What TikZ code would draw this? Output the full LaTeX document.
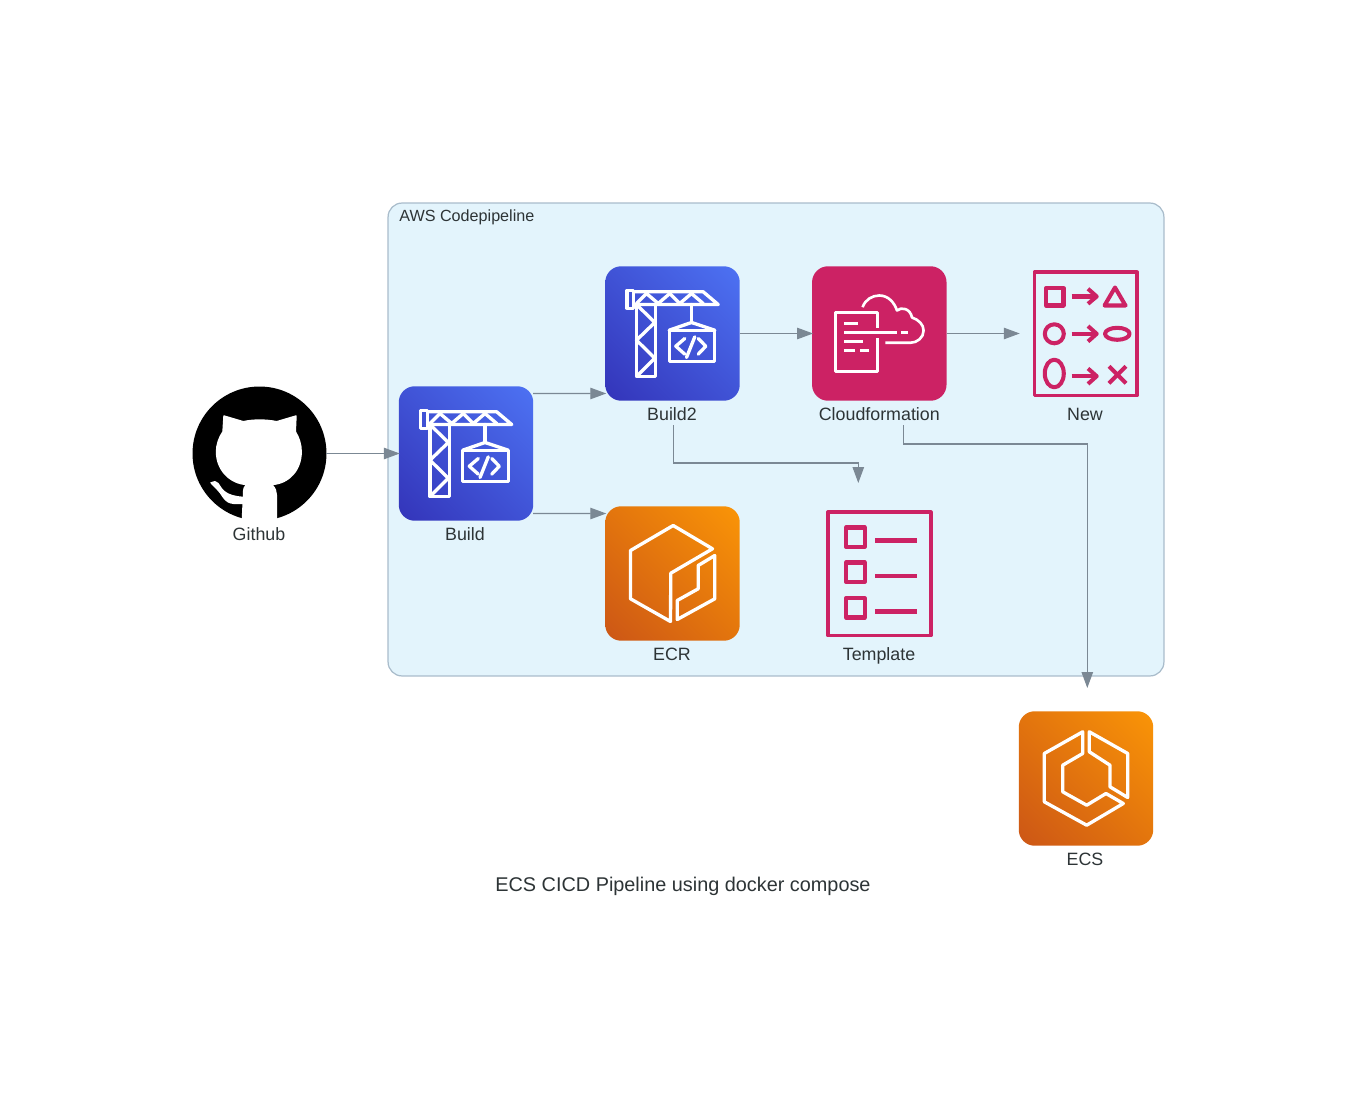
\documentclass[tikz,border=0pt]{standalone}
\usepackage{fontspec}
\setmainfont{Liberation Sans}
\usetikzlibrary{arrows.meta, calc, shadings}
\definecolor{flowgray}{HTML}{7B8894}
\definecolor{textgray}{HTML}{2D3436}
\definecolor{clusterfill}{HTML}{E3F4FC}
\definecolor{clusterline}{HTML}{A9BCCB}
\definecolor{stackpink}{HTML}{CC2264}
\definecolor{bluedark}{HTML}{3334B9}
\definecolor{bluelight}{HTML}{4D72F3}
\definecolor{bluemid}{HTML}{4053D6}
\definecolor{orangedark}{HTML}{CC5616}
\definecolor{orangelight}{HTML}{FA9507}
\definecolor{orangemid}{HTML}{E3750D}
\tikzset{
	iconbox/.style={minimum size=2.69cm,inner sep=0pt,outer sep=0pt,rounded corners=0.32cm},
	bluebox/.style={iconbox,lower left=bluedark,upper right=bluelight,upper left=bluemid,lower right=bluemid},
	orangebox/.style={iconbox,lower left=orangedark,upper right=orangelight,upper left=orangemid,lower right=orangemid},
	pinkbox/.style={iconbox,fill=stackpink},
	blankbox/.style={minimum size=2.69cm,inner sep=0pt,outer sep=0pt},
	catbox/.style={circle,fill=black,minimum size=2.68cm,inner sep=0pt,outer sep=0pt},
	cluster/.style={draw=clusterline,fill=clusterfill,line width=0.7pt,rounded corners=0.28cm,minimum width=15.52cm,minimum height=9.46cm,inner sep=0pt},
	lbl/.style={anchor=base,inner sep=0pt,text=textgray,font=\fontsize{10.15}{12}\selectfont},
	flow/.style={draw=flowgray,line width=0.6pt,shorten >=-0.02cm,-{Stealth[inset=0pt,length=0.32cm,width=0.23cm]}},
	wglyph/.style={draw=white,line width=1.9pt,line join=round,line cap=round},
	wthin/.style={draw=white,line width=1.5pt,line join=round},
	pframe/.style={draw=stackpink,line width=2.1pt,line join=round},
	pglyph/.style={draw=stackpink,line width=2.3pt,line join=round},
	cranepic/.pic={
		\draw[wglyph] (-45.5,-43) rectangle (-38.7,-25.3);
		\draw[wglyph] (-37.7,-41.7) -- (30.7,-41.7) -- (45.7,-29) -- (-37.7,-29);
		\draw[wglyph] (-36,-30) -- (-26,-40) -- (-14.3,-30) -- (-2.7,-40) -- (7.3,-30) -- (19,-40) -- (30.7,-30);
		\draw[wglyph] (-36,-29) -- (-36,43) -- (-16.7,43) -- (-16.7,-29);
		\draw[wglyph] (-36,-29) -- (-17.7,-11) -- (-36,6.7) -- (-17.7,24.7) -- (-36,43);
		\draw[wglyph] (19,-29) -- (19,-11);
		\draw[wglyph] (-3.3,-3.3) -- (19,-11) -- (42.3,-3.3);
		\draw[wglyph] (-3.3,-3.3) rectangle (42.3,28.3);
		\draw[wglyph] (12.3,5) -- (3.3,12.7) -- (12.3,20.7);
		\draw[wglyph] (25.7,5) -- (33.3,12.7) -- (25.7,20.7);
		\draw[wglyph] (22.3,3.3) -- (14,24);
	},
	stackpic/.pic={
		\draw[wthin] (-1.7,-6) -- (-1.7,-21) -- (-44,-21) -- (-44,38) -- (-1.7,38) -- (-1.7,4.3);
		\draw[wthin] (-35,-10.3) -- (-21.7,-10.3);
		\draw[wthin] (-35,-0.7) -- (17.7,-0.7);
		\draw[wthin] (22,-0.7) -- (28.7,-0.7);
		\draw[wthin] (-35,8.3) -- (-16.3,8.3);
		\draw[wthin] (-35,17.3) -- (-24,17.3);
		\draw[wthin] (-19,17.3) -- (-10.7,17.3);
		\draw[wthin] (-16.7,-26.3) .. controls (-14,-34) and (-7,-38) .. (0,-38)
			.. controls (9,-38) and (15,-31) .. (17.7,-23)
			.. controls (22,-27) and (31,-25) .. (32.7,-16)
			.. controls (39,-14) and (44.3,-9) .. (44.3,-3)
			.. controls (44.3,4) and (38,9.3) .. (31,9.3) -- (6,9.3);
	},
	ecrpic/.pic={
		\draw[wglyph] (-2,48) -- (-42,25.3) -- (-42,-23) -- (0.7,-48) -- (40,-24.7) -- (-1.7,-0.3) -- cycle;
		\draw[wglyph] (4.7,46) -- (4.7,27) -- (25.7,15.3) -- (25.7,-8) -- (42.3,-18) -- (42.3,25.3) -- cycle;
	},
	ecspic/.pic={
		\draw[wglyph] (-3.3,-46.7) -- (-41.7,-25) -- (-41.7,23.3) -- (0.7,46.7) -- (37.3,25) -- (20,15) -- (0.7,26.7) -- (-23.3,13.3) -- (-23.3,-13.3) -- (-3.3,-25) -- cycle;
		\draw[wglyph] (3.3,-46.7) -- (41.7,-25) -- (41.7,19) -- (24,8.3) -- (24,-13.3) -- (3.3,-26.7) -- cycle;
	},
	newpic/.pic={
		\draw[pframe] (-51.5,-61.2) rectangle (51.2,61.9);
		\draw[pglyph] (-40,-45.5) rectangle (-22.5,-28);
		\draw[pglyph] (-14.3,-37) -- (9,-37);
		\draw[pglyph] (2,-44.7) -- (10.7,-37) -- (2,-29.7);
		\draw[pglyph] (29,-46) -- (18.5,-28) -- (39.5,-28) -- cycle;
		\draw[pglyph] (-31.7,0.3) circle (9.5);
		\draw[pglyph] (-14.3,0.3) -- (9,0.3);
		\draw[pglyph] (2,-7.4) -- (10.7,0.3) -- (2,8);
		\draw[pglyph] (31.3,0.3) ellipse (12.3 and 6);
		\draw[pglyph] (-31.7,40) ellipse (9.5 and 13.8);
		\draw[pglyph] (-14.3,42.7) -- (9,42.7);
		\draw[pglyph] (2,35) -- (10.7,42.7) -- (2,50.4);
		\draw[pglyph] (23,32.8) -- (40,49.8);
		\draw[pglyph] (23,49.8) -- (40,32.8);
	},
	templatepic/.pic={
		\draw[pframe] (-51.2,-61.2) rectangle (51.9,61.9);
		\draw[pglyph] (-33,-46) rectangle (-14.3,-26.7);
		\draw[pglyph] (-33,-11) rectangle (-14.3,8.3);
		\draw[pglyph] (-33,24.7) rectangle (-14.3,44);
		\draw[pglyph] (-4,-33) -- (37.7,-33);
		\draw[pglyph] (-4,2.7) -- (37.7,2.7);
		\draw[pglyph] (-4,38) -- (37.7,38);
	},
	catpic/.pic={
		\filldraw[white,line width=0.8pt,line join=round] (-35.5,-37.5) -- (-16.2,-31.8) .. controls (-6,-34) and (6,-34) .. (17.2,-31.8)
			-- (36.5,-37.5) -- (35.8,-21.8) .. controls (39.5,-16) and (41.7,-9) .. (41.7,-1.8)
			.. controls (41.7,16) and (30,30) .. (12.2,31) .. controls (16,35) and (16.8,38) .. (16.8,41.5)
			-- (16.8,72) -- (-17.4,72) -- (-16,43.2) -- (-16,38) .. controls (-15.8,35) and (-15,33) .. (-12.8,31)
			.. controls (-30,30) and (-43,16) .. (-43,-1.8) .. controls (-43,-9) and (-40.5,-16) .. (-36.5,-21.8) -- cycle;
		\fill[white] (-49.5,29.2) .. controls (-45,27) and (-43,27) .. (-41,29.5)
			.. controls (-37,36) and (-34,42) .. (-16.2,43.2) -- (-16.2,50.5) -- (-26,50.5)
			.. controls (-36,50) and (-38,40) .. (-42,37) -- cycle;
	}
}
\begin{document}
\begin{tikzpicture}[x=0.02cm,y=-0.02cm]
	\path[use as bounding box,fill=white] (0,0) rectangle (1367,1095);
	\node[cluster] (pipeline) at (776,439.5) {};
	\node[lbl,anchor=base west,font=\fontsize{9.2}{11}\selectfont] (pipelinelabel) at (399,221) {AWS Codepipeline};

	\node[catbox] (github) at (259.5,453.5) {};
	\node[bluebox] (build) at (466,453.5) {};
	\node[bluebox] (build2) at (672.5,333.5) {};
	\node[pinkbox] (cf) at (879.3,333.5) {};
	\node[blankbox] (new) at (1086,333.5) {};
	\node[orangebox] (ecr) at (672.5,573.5) {};
	\node[blankbox] (template) at (879,573.5) {};
	\node[orangebox] (ecs) at (1086,778.5) {};

	\pic at (github) {catpic};
	\pic at (build) {cranepic};
	\pic at (build2) {cranepic};
	\pic at (cf) {stackpic};
	\pic at (new) {newpic};
	\pic at (ecr) {ecrpic};
	\pic at (template) {templatepic};
	\pic at (ecs) {ecspic};

	\node[lbl] (githublabel) at (259,540) {Github};
	\node[lbl] (buildlabel) at (465,540) {Build};
	\node[lbl] (build2label) at (672,420) {Build2};
	\node[lbl] (cflabel) at (879.3,420) {Cloudformation};
	\node[lbl] (newlabel) at (1085,420) {New};
	\node[lbl] (ecrlabel) at (672,660) {ECR};
	\node[lbl] (templatelabel) at (879,660) {Template};
	\node[lbl] (ecslabel) at (1085,865) {ECS};
	\node[lbl,font=\fontsize{11.3}{13}\selectfont] (title) at (683,891.5) {ECS CICD Pipeline using docker compose};

	\coordinate (build2out) at (673.3,425);
	\coordinate (templatein) at (858.3,482);
	\coordinate (cfout) at (903.3,425);
	\coordinate (ecsin) at (1087.3,687);

	\draw[flow] (github.east) -- (build.west);
	\draw[flow] ([yshift=-0.145cm]build.north east) -- ([yshift=0.145cm]build2.south west);
	\draw[flow] ([yshift=0.145cm]build.south east) -- ([yshift=-0.145cm]ecr.north west);
	\draw[flow] (build2.east) -- (cf.west);
	\draw[flow] (cf.east) -- (new.west);
	\draw[flow] (build2out) -- ++(0,38) -| (templatein);
	\draw[flow] (cfout) -- ++(0,19) -| (ecsin);
\end{tikzpicture}
\end{document}
